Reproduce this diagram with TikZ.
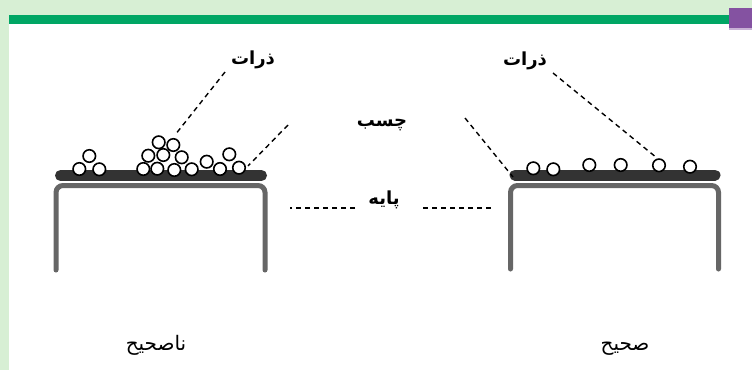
\documentclass[tikz,border=0pt]{standalone}
\usepackage{fontspec}
\TeXXeTstate=1
\newfontfamily\arabicfont[Script=Arabic]{DejaVu Sans}
\definecolor{bgpale}{HTML}{D7EFD4}
\definecolor{barGreen}{HTML}{00A664}
\definecolor{cornerPurple}{HTML}{8452A1}
\definecolor{basegray}{HTML}{666666}
\definecolor{gluedark}{HTML}{333333}
\tikzset{
  particle/.style={circle, draw=black, fill=white, line width=1.6pt, minimum size=12.5pt, inner sep=0pt},
  basebox/.style={draw=basegray, line width=5pt, rounded corners=7pt, line cap=round},
  gluebar/.style={draw=gluedark, line width=11pt, line cap=round},
  leader/.style={draw=black, line width=1.4pt, dash pattern=on 5pt off 4pt},
  boldlabel/.style={font=\arabicfont\bfseries\fontsize{18}{20}\selectfont, inner sep=1pt},
  plainlabel/.style={font=\arabicfont\fontsize{20}{22}\selectfont, inner sep=1pt, anchor=base}
}
\begin{document}
\begin{tikzpicture}[x=1pt,y=-1pt]
\useasboundingbox (0,0) rectangle (752,370);
% background frame
\fill[bgpale] (0,0) rectangle (752,370);
\fill[white] (9,24) rectangle (752,370);
\fill[barGreen] (9,15) rectangle (729,24);
\fill[cornerPurple] (729,8) rectangle (752,28);
\fill[cornerPurple!45] (729,28) rectangle (752,29.5);

% ---------- left (incorrect) ----------
\draw[basebox] (56,270) -- (56,185.5) -- (265,185.5) -- (265,270);
\draw[gluebar] (60.5,175.5) -- (261.5,175.5);
\node[particle] (L1) at (79.3,169) {};
\node[particle] (L2) at (99.3,169.3) {};
\node[particle] (L3) at (89.3,156) {};
\node[particle] (L4) at (143.3,169) {};
\node[particle] (L5) at (157.3,168.7) {};
\node[particle] (L6) at (174.3,170) {};
\node[particle] (L7) at (191.7,169.3) {};
\node[particle] (L8) at (148.3,155.7) {};
\node[particle] (L9) at (163.3,155) {};
\node[particle] (L10) at (181.7,157.3) {};
\node[particle] (L11) at (158.7,142.3) {};
\node[particle] (L12) at (173.3,145) {};
\node[particle] (L13) at (206.7,161.7) {};
\node[particle] (L14) at (220,169) {};
\node[particle] (L15) at (229.3,154.3) {};
\node[particle] (L16) at (239,167.7) {};

% ---------- right (correct) ----------
\draw[basebox] (510.5,269) -- (510.5,185.5) -- (718.5,185.5) -- (718.5,269);
\draw[gluebar] (515,175) -- (715,175);
\node[particle] (R1) at (533.3,168.3) {};
\node[particle] (R2) at (553.3,169.3) {};
\node[particle] (R3) at (589.3,165) {};
\node[particle] (R4) at (620.7,165) {};
\node[particle] (R5) at (659,165.3) {};
\node[particle] (R6) at (690,166.7) {};

% ---------- labels ----------
\node[boldlabel] (zarratL) at (253,60) {\beginR ذرات\endR};
\node[boldlabel] (zarratR) at (525,61) {\beginR ذرات\endR};
\node[boldlabel] (chasb) at (382,125) {\beginR چسب\endR};
\node[boldlabel] (paye) at (384,200) {\beginR پایه\endR};
\node[plainlabel] (wrong) at (156,350) {\beginR ناصحیح\endR};
\node[plainlabel] (right) at (625,350) {\beginR صحیح\endR};

% leader line end points
\coordinate (zlA) at (225,72);
\coordinate (zlB) at (175,135);
\coordinate (zrA) at (553,73);
\coordinate (zrB) at (657,158);
\coordinate (clA) at (288,125);
\coordinate (clB) at (248,166);
\coordinate (crA) at (465,118);
\coordinate (crB) at (513,177);
\coordinate (plA) at (355,208);
\coordinate (plB) at (290,208);
\coordinate (prA) at (423,208);
\coordinate (prB) at (493,208);

\draw[leader] (zlA) -- (zlB);
\draw[leader] (zrA) -- (zrB);
\draw[leader] (clA) -- (clB);
\draw[leader] (crA) -- (crB);
\draw[leader] (plA) -- (plB);
\draw[leader] (prA) -- (prB);
\end{tikzpicture}
\end{document}
